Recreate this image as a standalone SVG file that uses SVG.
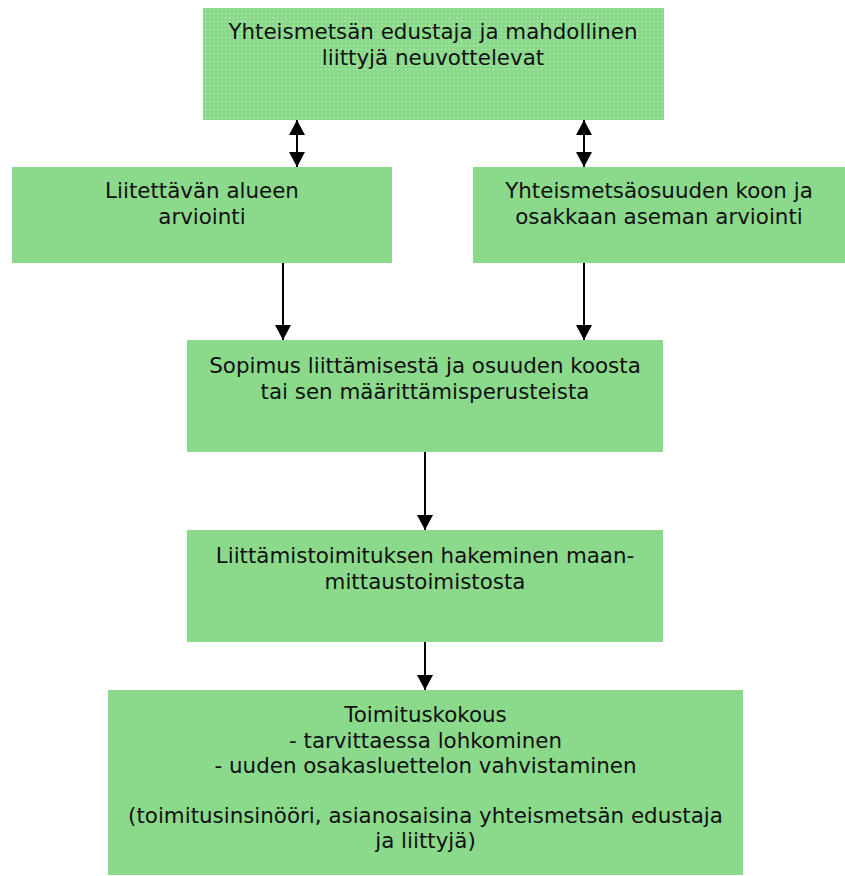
<svg xmlns="http://www.w3.org/2000/svg" width="845" height="876" viewBox="0 0 845 876">
<style>
.box{fill:#8bd98b;}
.t{font-family:"DejaVu Sans","Verdana",sans-serif;font-size:21.4px;fill:#111;text-anchor:middle;}
.c{stroke:#000;stroke-width:2;fill:none;}
</style>
<defs>
<pattern id="dots" width="4" height="4" patternUnits="userSpaceOnUse">
<rect width="4" height="4" fill="#8bd98b"/>
<rect x="1" y="1" width="1" height="1" fill="#ffffff" fill-opacity="0.55"/>
</pattern>
<marker id="ah" markerUnits="userSpaceOnUse" markerWidth="16" markerHeight="16" viewBox="0 0 16 16" refX="15" refY="8" orient="auto-start-reverse">
<path d="M0,0 L15,8 L0,16 Z" fill="#000"/>
</marker>
</defs>
<rect width="845" height="876" fill="#fff"/>
<g id="n1">
<rect x="203" y="8" width="461" height="112" fill="url(#dots)"/>
<text class="t" x="433" y="39">Yhteismetsän edustaja ja mahdollinen</text>
<text class="t" x="433" y="65">liittyjä neuvottelevat</text>
</g>
<g id="n2">
<rect class="box" x="12" y="167" width="380" height="96"/>
<text class="t" x="202" y="198">Liitettävän alueen</text>
<text class="t" x="202" y="224">arviointi</text>
</g>
<g id="n3">
<rect class="box" x="473" y="167" width="372" height="96"/>
<text class="t" x="659" y="198">Yhteismetsäosuuden koon ja</text>
<text class="t" x="659" y="224">osakkaan aseman arviointi</text>
</g>
<g id="n4">
<rect class="box" x="187" y="340" width="476" height="112"/>
<text class="t" x="425" y="373">Sopimus liittämisestä ja osuuden koosta</text>
<text class="t" x="425" y="399">tai sen määrittämisperusteista</text>
</g>
<g id="n5">
<rect class="box" x="187" y="530" width="476" height="112"/>
<text class="t" x="425" y="563">Liittämistoimituksen hakeminen maan-</text>
<text class="t" x="425" y="589">mittaustoimistosta</text>
</g>
<g id="n6">
<rect class="box" x="108" y="690" width="635" height="185"/>
<text class="t" x="425.5" y="722">Toimituskokous</text>
<text class="t" x="425.5" y="748">- tarvittaessa lohkominen</text>
<text class="t" x="425.5" y="773">- uuden osakasluettelon vahvistaminen</text>
<text class="t" x="425.5" y="823">(toimitusinsinööri, asianosaisina yhteismetsän edustaja</text>
<text class="t" x="425.5" y="848">ja liittyjä)</text>
</g>
<g id="connectors">
<line class="c" x1="297" y1="120" x2="297" y2="167" marker-start="url(#ah)" marker-end="url(#ah)"/>
<line class="c" x1="584" y1="120" x2="584" y2="167" marker-start="url(#ah)" marker-end="url(#ah)"/>
<line class="c" x1="283" y1="263" x2="283" y2="340" marker-end="url(#ah)"/>
<line class="c" x1="584" y1="263" x2="584" y2="340" marker-end="url(#ah)"/>
<line class="c" x1="425" y1="452" x2="425" y2="530" marker-end="url(#ah)"/>
<line class="c" x1="425" y1="642" x2="425" y2="690" marker-end="url(#ah)"/>
</g>
</svg>
